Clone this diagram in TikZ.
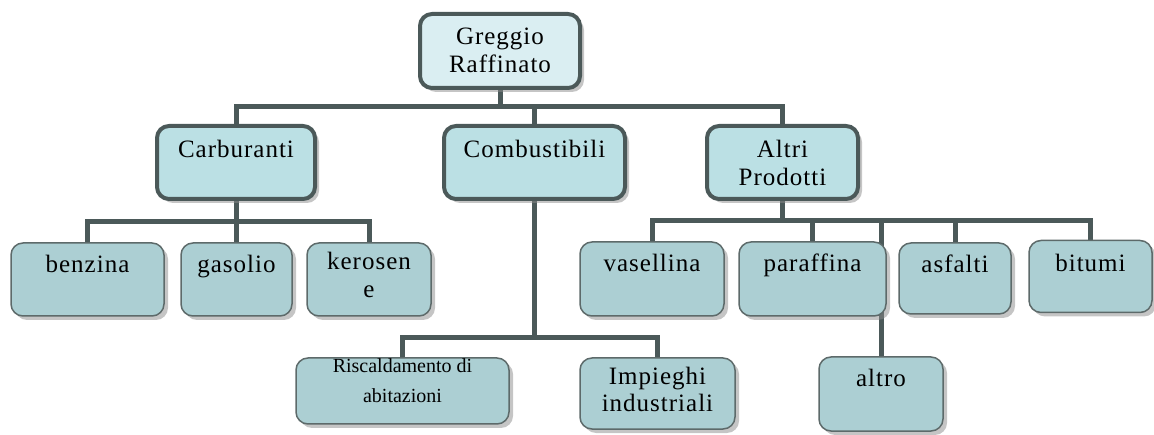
\documentclass[tikz,border=0pt]{standalone}
\usepackage{xcolor}
\usepackage{fontspec}
\setmainfont{Liberation Serif}[LetterSpace=4]
\newfontfamily\plainserif{Liberation Serif}
\usetikzlibrary{shadows,backgrounds}

\definecolor{edgegray}{HTML}{4B5959}
\definecolor{rootfill}{HTML}{DAEEF2}
\definecolor{midfill}{HTML}{BBE0E4}
\definecolor{leaffill}{HTML}{ACCFD3}

% width, height, first baseline, text
\newcommand{\boxtext}[4]{\parbox[c][#2pt][t]{#1pt}{\centering\rule{0pt}{#3pt}#4}}

\begin{document}
\begin{tikzpicture}[x=1pt, y=-1pt,
  card/.style={rounded corners=12pt, inner sep=0pt, font=\fontsize{25}{28}\selectfont,
    drop shadow={shadow xshift=4pt, shadow yshift=-4pt, fill=black!45, opacity=0.5}},
  root/.style={card, draw=edgegray, line width=4pt, fill=rootfill},
  mid/.style={card, draw=edgegray, line width=4pt, fill=midfill},
  leaf/.style={card, draw=edgegray!90, line width=1.5pt, fill=leaffill},
  conn/.style={draw=edgegray, line width=5pt}]
\useasboundingbox (0,0) rectangle (1154,435);

\node[root] (greggio) at (500,51) {\boxtext{160}{74}{31}{Greggio\\Raffinato}};

\node[mid] (carburanti) at (236,162.5) {\boxtext{158}{73}{32}{Carburanti}};
\node[mid] (combustibili) at (534.5,162.5) {\boxtext{181}{73}{32}{Combustibili}};
\node[mid] (altri) at (782.5,162.5) {\boxtext{151}{73}{32}{Altri\\Prodotti}};

\node[leaf] (benzina) at (87.5,279.5) {\boxtext{153}{73}{30}{benzina}};
\node[leaf] (gasolio) at (236.5,279.5) {\boxtext{111}{73}{30}{gasolio}};
\node[leaf] (kerosene) at (369,279.5) {\boxtext{124}{73}{27}{kerosen\\e}};

\node[leaf] (vasellina) at (652,279) {\boxtext{144}{74}{30}{vasellina}};
\node[leaf] (paraffina) at (812.5,279) {\boxtext{147}{74}{30}{paraffina}};
\node[leaf] (asfalti) at (955,278.5) {\boxtext{112}{71}{30}{asfalti}};
\node[leaf] (bitumi) at (1090.5,276.5) {\boxtext{123}{72}{31}{bitumi}};

\node[leaf] (riscaldamento) at (402.5,391) {\boxtext{213}{66}{15}{\plainserif\fontsize{20}{30}\selectfont Riscaldamento di\\abitazioni}};
\node[leaf] (impieghi) at (657.5,393.5) {\boxtext{155}{71}{26}{Impieghi\\industriali}};
\node[leaf] (altro) at (881,394) {\boxtext{124}{74}{30}{altro}};

\begin{scope}[on background layer]
\draw[conn] (greggio.south) -- ++(0,17) -| (carburanti.north);
\draw[conn] (greggio.south) -- ++(0,17) -| (combustibili.north);
\draw[conn] (greggio.south) -- ++(0,17) -| (altri.north);

\draw[conn] (carburanti.south) -- ++(0,21) -| (benzina.north);
\draw[conn] (carburanti.south) -- ++(0,21) -| (gasolio.north);
\draw[conn] (carburanti.south) -- ++(0,21) -| (kerosene.north);

\draw[conn] (combustibili.south) -- ++(0,137) -| (riscaldamento.north);
\draw[conn] (combustibili.south) -- ++(0,137) -| (impieghi.north);

\draw[conn] (altri.south) -- ++(0,20) -| (vasellina.north);
\draw[conn] (altri.south) -- ++(0,20) -| (paraffina.north);
\draw[conn] (altri.south) -- ++(0,20) -| (asfalti.north);
\draw[conn] (altri.south) -- ++(0,20) -| (bitumi.north);
\draw[conn] (altri.south) -- ++(0,20) -| (altro.north);
\end{scope}
\end{tikzpicture}
\end{document}
